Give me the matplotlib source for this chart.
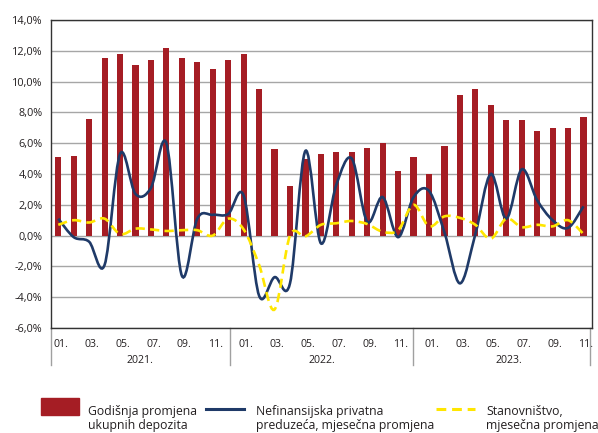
import matplotlib
import matplotlib.pyplot as plt
import numpy as np
from matplotlib.lines import Line2D
from matplotlib.patches import PathPatch, Rectangle
from matplotlib.path import Path
from matplotlib.ticker import FuncFormatter
from matplotlib.transforms import ScaledTranslation

matplotlib.use("Agg")
plt.rcParams["font.family"] = ["Open Sans", "DejaVu Sans"]

# monthly data, Jan 2021 - Nov 2023 (%)
years = ["2021.", "2022.", "2023."]
month_labels = ["01.", "03.", "05.", "07.", "09.", "11."]
deposits_yoy = [5.1, 5.2, 7.6, 11.5, 11.8, 11.1, 11.4, 12.2, 11.5, 11.3, 10.8, 11.4,
                11.8, 9.5, 5.6, 3.2, 5.0, 5.3, 5.4, 5.4, 5.7, 6.0, 4.2, 5.1,
                4.0, 5.8, 9.1, 9.5, 8.5, 7.5, 7.5, 6.8, 7.0, 7.0, 7.7]
companies_mom = [1.1, -0.1, -0.4, -1.9, 5.3, 2.7, 3.1, 6.0, -2.6, 1.1, 1.35, 1.4,
                 2.6, -3.9, -2.7, -3.1, 5.5, -0.5, 3.3, 5.0, 0.9, 2.5, -0.1, 2.5,
                 2.9, 0.2, -3.1, 0.1, 4.0, 1.1, 4.3, 2.3, 1.0, 0.5, 1.9]
households_mom = [0.7, 1.0, 0.85, 1.1, 0.1, 0.45, 0.4, 0.3, 0.35, 0.35, 0.0, 1.1,
                  0.4, -1.9, -4.8, 0.0, -0.05, 0.7, 0.8, 0.95, 0.75, 0.25, 0.35, 2.0,
                  0.6, 1.25, 1.15, 0.7, -0.2, 1.1, 0.55, 0.7, 0.6, 1.0, 0.1]
legend_labels = [
    ["Godišnja promjena", "ukupnih depozita"],
    ["Nefinansijska privatna", "preduzeća, mjesečna promjena"],
    ["Stanovništvo,", "mjesečna promjena"],
]

RED = "#A51D24"
NAVY = "#1F3A68"
YELLOW = "#FFE600"
TXT = "#231F20"
W, H = 598, 433


def smooth_path(x, y):
    # bezier through the points, like excel's smoothed line
    pts = np.column_stack([x, y])
    n = len(pts)
    verts = [pts[0]]
    codes = [Path.MOVETO]
    for i in range(n - 1):
        p0 = pts[max(i - 1, 0)]
        p1 = pts[i]
        p2 = pts[i + 1]
        p3 = pts[min(i + 2, n - 1)]
        verts += [p1 + (p2 - p0) / 6, p2 - (p3 - p1) / 6, p2]
        codes += [Path.CURVE4] * 3
    return Path(verts, codes)


x = np.arange(len(deposits_yoy))

fig = plt.figure(figsize=(W / 100, H / 100), dpi=100)
ax = fig.add_axes([51 / W, 1 - 328 / H, 541 / W, 308 / H])

ax.bar(x, deposits_yoy, width=0.4, color=RED, zorder=2)
ax.add_patch(PathPatch(smooth_path(x, companies_mom), fill=False,
                       edgecolor=NAVY, lw=1.9, zorder=3))
ax.add_patch(PathPatch(smooth_path(x, households_mom), fill=False,
                       edgecolor=YELLOW, lw=1.9, linestyle=(0, (3.5, 2.0)), zorder=4))

ax.set_xlim(-0.47, 34.55)
ax.set_ylim(-6, 14)
ax.set_yticks(np.arange(-6, 15, 2))
ax.yaxis.set_major_formatter(FuncFormatter(lambda v, p: f"{v:.1f}%".replace(".", ",")))
ax.grid(axis="y", color="#A6A6A6", lw=1.0, zorder=0)
ax.set_axisbelow(True)
ax.tick_params(axis="y", length=0, pad=6, labelsize=7.8, labelcolor=TXT)

# month ticks and year groups
ticks = [m for m in x if m % 2 == 0]
ax.set_xticks(ticks)
ax.set_xticklabels([month_labels[(m % 12) // 2] for m in ticks])
ax.tick_params(axis="x", length=0, pad=8, labelsize=7.6, labelcolor=TXT)
shift = ScaledTranslation(2.5 / 100, 0, fig.dpi_scale_trans)
for lab in ax.get_xticklabels():
    lab.set_transform(lab.get_transform() + shift)

for s in ax.spines.values():
    s.set_color("#333333")
    s.set_linewidth(1.0)

trans = ax.get_xaxis_transform()
for sep in [-0.47, 11.13, 22.98, 34.43]:
    ax.plot([sep, sep], [0, -0.12], transform=trans, color="#A0A0A0",
            lw=1.0, clip_on=False)
for pos, yr in zip([5.3, 17.05, 29.2], years):
    ax.text(pos, -0.105, yr, transform=trans, ha="center", va="center",
            fontsize=7.6, color=TXT)

# legend, drawn by hand so the keys sit on the first text line
fig.add_artist(Rectangle((41 / W, 1 - 415 / H), 38 / W, 17 / H,
                         transform=fig.transFigure, color=RED))
fig.add_artist(Line2D([206 / W, 244 / W], [1 - 408.5 / H] * 2,
                      transform=fig.transFigure, color=NAVY, lw=2.2))
fig.add_artist(Line2D([436 / W, 475 / W], [1 - 408.5 / H] * 2,
                      transform=fig.transFigure, color=YELLOW, lw=2.2,
                      linestyle=(0, (3.2, 1.9))))
for left, lines in zip([88, 255.5, 486], legend_labels):
    for k, line in enumerate(lines):
        fig.text(left / W, 1 - (415 + 14 * k) / H, line, ha="left", va="baseline",
                 fontsize=8.8, color=TXT)

fig.savefig("out.png", dpi=100)
